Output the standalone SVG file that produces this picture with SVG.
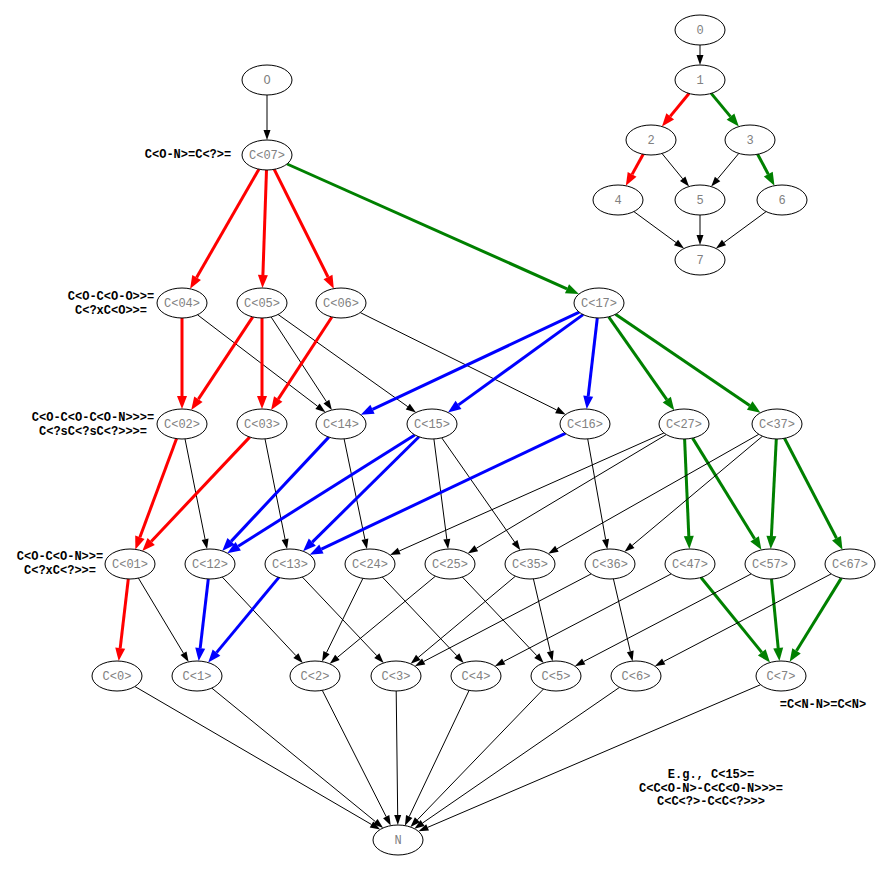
<svg xmlns="http://www.w3.org/2000/svg" width="891" height="871" viewBox="0 0 891 871">
<style>
.n ellipse{fill:#fff;stroke:#000;stroke-width:1}
.n text{font-family:"Liberation Mono","DejaVu Sans Mono",monospace;font-size:12px;fill:#808080;text-anchor:middle}
.lbl{font-family:"Liberation Mono","DejaVu Sans Mono",monospace;font-size:12px;font-weight:bold;fill:#000;text-anchor:middle}
.k{stroke:#000;stroke-width:1;fill:none;marker-end:url(#ak)}
.r{stroke:#f00;stroke-width:3;fill:none;marker-end:url(#ar)}
.g{stroke:#008000;stroke-width:3;fill:none;marker-end:url(#ag)}
.b{stroke:#00f;stroke-width:3;fill:none;marker-end:url(#ab)}
</style>
<defs>
<marker id="ak" markerUnits="userSpaceOnUse" orient="auto" refX="0" refY="3.5" markerWidth="11" markerHeight="8" overflow="visible"><path d="M0,0 L10,3.5 L0,7 z" fill="#000"/></marker>
<marker id="ar" markerUnits="userSpaceOnUse" orient="auto" refX="0" refY="5" markerWidth="14" markerHeight="11" overflow="visible"><path d="M0,0 L13,5 L0,10 z" fill="#f00"/></marker>
<marker id="ag" markerUnits="userSpaceOnUse" orient="auto" refX="0" refY="5" markerWidth="14" markerHeight="11" overflow="visible"><path d="M0,0 L13,5 L0,10 z" fill="#008000"/></marker>
<marker id="ab" markerUnits="userSpaceOnUse" orient="auto" refX="0" refY="5" markerWidth="14" markerHeight="11" overflow="visible"><path d="M0,0 L13,5 L0,10 z" fill="#00f"/></marker>
</defs>
<rect width="891" height="871" fill="#fff"/>
<g id="connectors">
<line class="k" x1="267" y1="95" x2="267" y2="130"/>
<line class="r" x1="258.9" y1="169.2" x2="196.6" y2="277.5"/>
<line class="r" x1="266.5" y1="170" x2="262.9" y2="275"/>
<line class="r" x1="274.2" y1="169.4" x2="328" y2="277"/>
<line class="g" x1="287.1" y1="164" x2="567" y2="288.8"/>
<line class="r" x1="182" y1="318" x2="182" y2="396"/>
<line class="k" x1="197.5" y1="314.8" x2="317.5" y2="406.2"/>
<line class="r" x1="252.8" y1="316.9" x2="198.4" y2="399.2"/>
<line class="r" x1="262" y1="318" x2="262" y2="396"/>
<line class="k" x1="271.1" y1="317" x2="326.4" y2="401.6"/>
<line class="k" x1="278.1" y1="314.5" x2="407.8" y2="406.7"/>
<line class="r" x1="331.9" y1="317" x2="278.2" y2="399.1"/>
<line class="k" x1="360.3" y1="312.6" x2="556.7" y2="410"/>
<line class="b" x1="579.3" y1="312.2" x2="372.5" y2="409.3"/>
<line class="b" x1="583.1" y1="314.6" x2="458.5" y2="404.9"/>
<line class="b" x1="597.3" y1="318" x2="588.2" y2="396.1"/>
<line class="g" x1="608.7" y1="316.8" x2="666.8" y2="399.6"/>
<line class="g" x1="615.5" y1="314.3" x2="749.7" y2="405.5"/>
<line class="r" x1="176.6" y1="438.6" x2="139.9" y2="537.2"/>
<line class="k" x1="185" y1="438.9" x2="205.1" y2="539.3"/>
<line class="r" x1="249.7" y1="437.1" x2="151.2" y2="541.5"/>
<line class="k" x1="265" y1="438.9" x2="285.1" y2="539.3"/>
<line class="b" x1="328.8" y1="437.1" x2="231.1" y2="541.4"/>
<line class="k" x1="344.1" y1="438.9" x2="364.9" y2="539.3"/>
<line class="b" x1="414.8" y1="434.9" x2="238.2" y2="546.2"/>
<line class="b" x1="419" y1="436.8" x2="312.3" y2="542.1"/>
<line class="k" x1="433.9" y1="439" x2="446.8" y2="539.1"/>
<line class="k" x1="441.7" y1="437.8" x2="514.6" y2="542"/>
<line class="b" x1="565.4" y1="433.3" x2="321.4" y2="549.1"/>
<line class="k" x1="587.7" y1="438.9" x2="605.6" y2="539.3"/>
<line class="k" x1="663.9" y1="433" x2="399.2" y2="551"/>
<line class="k" x1="666.3" y1="434.6" x2="476.3" y2="548.3"/>
<line class="g" x1="684.6" y1="439" x2="688.8" y2="536"/>
<line class="g" x1="692.6" y1="438.1" x2="754.6" y2="538.8"/>
<line class="k" x1="758.8" y1="434.3" x2="556.9" y2="548.8"/>
<line class="k" x1="762.5" y1="436.2" x2="632.2" y2="545.4"/>
<line class="g" x1="776.3" y1="439" x2="771.4" y2="536"/>
<line class="g" x1="784.5" y1="438.3" x2="836.5" y2="538.2"/>
<line class="r" x1="128.3" y1="579" x2="120.2" y2="648.1"/>
<line class="k" x1="138.4" y1="578.1" x2="183.5" y2="653.3"/>
<line class="b" x1="208.3" y1="579" x2="200.2" y2="648.1"/>
<line class="k" x1="222.3" y1="577.1" x2="295.9" y2="655.6"/>
<line class="b" x1="278.9" y1="577.4" x2="216.5" y2="652.6"/>
<line class="k" x1="302.3" y1="577" x2="376.8" y2="655.7"/>
<line class="k" x1="362.9" y1="578.4" x2="326.5" y2="652.6"/>
<line class="k" x1="382.3" y1="577" x2="456.8" y2="655.7"/>
<line class="k" x1="435.4" y1="576.2" x2="337.4" y2="657.4"/>
<line class="k" x1="462.3" y1="577" x2="536.8" y2="655.7"/>
<line class="k" x1="515.4" y1="576.2" x2="418.3" y2="657.4"/>
<line class="k" x1="533.4" y1="578.9" x2="550.3" y2="651.4"/>
<line class="k" x1="591.2" y1="573.9" x2="423.7" y2="661.5"/>
<line class="k" x1="613.4" y1="578.9" x2="630.3" y2="651.4"/>
<line class="k" x1="671.2" y1="573.9" x2="503.7" y2="661.5"/>
<line class="g" x1="701" y1="577.5" x2="761.8" y2="652.4"/>
<line class="k" x1="751.2" y1="573.9" x2="583.7" y2="661.5"/>
<line class="g" x1="771.5" y1="579" x2="778.2" y2="648.1"/>
<line class="k" x1="831.2" y1="573.9" x2="663.7" y2="661.5"/>
<line class="g" x1="841.3" y1="578.1" x2="796.5" y2="650.8"/>
<line class="k" x1="134.9" y1="686.5" x2="371.5" y2="824.5"/>
<line class="k" x1="211.8" y1="688.1" x2="375.4" y2="821.6"/>
<line class="k" x1="322.3" y1="690.4" x2="386.2" y2="816.7"/>
<line class="k" x1="396.2" y1="691" x2="397.7" y2="815"/>
<line class="k" x1="469.1" y1="690.4" x2="409.2" y2="816.6"/>
<line class="k" x1="543.5" y1="689" x2="417.4" y2="819.8"/>
<line class="k" x1="619.6" y1="687.3" x2="422.6" y2="823"/>
<line class="k" x1="760.6" y1="684.7" x2="427.6" y2="827.4"/>
<line class="k" x1="700" y1="45" x2="700" y2="55"/>
<line class="r" x1="689" y1="93.5" x2="670.2" y2="116.4"/>
<line class="g" x1="711.2" y1="93.4" x2="730.5" y2="116.6"/>
<line class="r" x1="643.2" y1="154.2" x2="632.1" y2="174.4"/>
<line class="k" x1="662" y1="153.5" x2="682.7" y2="178.8"/>
<line class="k" x1="738.8" y1="153.4" x2="717.6" y2="178.9"/>
<line class="g" x1="757.6" y1="154.3" x2="768.3" y2="174.2"/>
<line class="k" x1="633.9" y1="211.6" x2="676" y2="242.5"/>
<line class="k" x1="700" y1="215" x2="700" y2="235"/>
<line class="k" x1="766.1" y1="211.6" x2="724" y2="242.5"/>
</g>
<g id="n_O" class="n"><ellipse cx="267" cy="80" rx="25" ry="15"/><text x="267" y="84">O</text></g>
<g id="n_07" class="n"><ellipse cx="267" cy="155" rx="25" ry="15"/><text x="267" y="159">C&lt;07&gt;</text></g>
<g id="n_04" class="n"><ellipse cx="182" cy="303" rx="25" ry="15"/><text x="182" y="307">C&lt;04&gt;</text></g>
<g id="n_05" class="n"><ellipse cx="262" cy="303" rx="25" ry="15"/><text x="262" y="307">C&lt;05&gt;</text></g>
<g id="n_06" class="n"><ellipse cx="341" cy="303" rx="25" ry="15"/><text x="341" y="307">C&lt;06&gt;</text></g>
<g id="n_17" class="n"><ellipse cx="599" cy="303" rx="25" ry="15"/><text x="599" y="307">C&lt;17&gt;</text></g>
<g id="n_02" class="n"><ellipse cx="182" cy="424" rx="25" ry="15"/><text x="182" y="428">C&lt;02&gt;</text></g>
<g id="n_03" class="n"><ellipse cx="262" cy="424" rx="25" ry="15"/><text x="262" y="428">C&lt;03&gt;</text></g>
<g id="n_14" class="n"><ellipse cx="341" cy="424" rx="25" ry="15"/><text x="341" y="428">C&lt;14&gt;</text></g>
<g id="n_15" class="n"><ellipse cx="432" cy="424" rx="25" ry="15"/><text x="432" y="428">C&lt;15&gt;</text></g>
<g id="n_16" class="n"><ellipse cx="585" cy="424" rx="25" ry="15"/><text x="585" y="428">C&lt;16&gt;</text></g>
<g id="n_27" class="n"><ellipse cx="684" cy="424" rx="25" ry="15"/><text x="684" y="428">C&lt;27&gt;</text></g>
<g id="n_37" class="n"><ellipse cx="777" cy="424" rx="25" ry="15"/><text x="777" y="428">C&lt;37&gt;</text></g>
<g id="n_01" class="n"><ellipse cx="130" cy="564" rx="25" ry="15"/><text x="130" y="568">C&lt;01&gt;</text></g>
<g id="n_12" class="n"><ellipse cx="210" cy="564" rx="25" ry="15"/><text x="210" y="568">C&lt;12&gt;</text></g>
<g id="n_13" class="n"><ellipse cx="290" cy="564" rx="25" ry="15"/><text x="290" y="568">C&lt;13&gt;</text></g>
<g id="n_24" class="n"><ellipse cx="370" cy="564" rx="25" ry="15"/><text x="370" y="568">C&lt;24&gt;</text></g>
<g id="n_25" class="n"><ellipse cx="450" cy="564" rx="25" ry="15"/><text x="450" y="568">C&lt;25&gt;</text></g>
<g id="n_35" class="n"><ellipse cx="530" cy="564" rx="25" ry="15"/><text x="530" y="568">C&lt;35&gt;</text></g>
<g id="n_36" class="n"><ellipse cx="610" cy="564" rx="25" ry="15"/><text x="610" y="568">C&lt;36&gt;</text></g>
<g id="n_47" class="n"><ellipse cx="690" cy="564" rx="25" ry="15"/><text x="690" y="568">C&lt;47&gt;</text></g>
<g id="n_57" class="n"><ellipse cx="770" cy="564" rx="25" ry="15"/><text x="770" y="568">C&lt;57&gt;</text></g>
<g id="n_67" class="n"><ellipse cx="850" cy="564" rx="25" ry="15"/><text x="850" y="568">C&lt;67&gt;</text></g>
<g id="n_c0" class="n"><ellipse cx="117" cy="676" rx="25" ry="15"/><text x="117" y="680">C&lt;0&gt;</text></g>
<g id="n_c1" class="n"><ellipse cx="197" cy="676" rx="25" ry="15"/><text x="197" y="680">C&lt;1&gt;</text></g>
<g id="n_c2" class="n"><ellipse cx="315" cy="676" rx="25" ry="15"/><text x="315" y="680">C&lt;2&gt;</text></g>
<g id="n_c3" class="n"><ellipse cx="396" cy="676" rx="25" ry="15"/><text x="396" y="680">C&lt;3&gt;</text></g>
<g id="n_c4" class="n"><ellipse cx="476" cy="676" rx="25" ry="15"/><text x="476" y="680">C&lt;4&gt;</text></g>
<g id="n_c5" class="n"><ellipse cx="556" cy="676" rx="25" ry="15"/><text x="556" y="680">C&lt;5&gt;</text></g>
<g id="n_c6" class="n"><ellipse cx="636" cy="676" rx="25" ry="15"/><text x="636" y="680">C&lt;6&gt;</text></g>
<g id="n_c7" class="n"><ellipse cx="781" cy="676" rx="25" ry="15"/><text x="781" y="680">C&lt;7&gt;</text></g>
<g id="n_N" class="n"><ellipse cx="398" cy="840" rx="25" ry="15"/><text x="398" y="844">N</text></g>
<g id="t0" class="n"><ellipse cx="700" cy="30" rx="25" ry="15"/><text x="700" y="34">0</text></g>
<g id="t1" class="n"><ellipse cx="700" cy="80" rx="25" ry="15"/><text x="700" y="84">1</text></g>
<g id="t2" class="n"><ellipse cx="651" cy="140" rx="25" ry="15"/><text x="651" y="144">2</text></g>
<g id="t3" class="n"><ellipse cx="750" cy="140" rx="25" ry="15"/><text x="750" y="144">3</text></g>
<g id="t4" class="n"><ellipse cx="618" cy="200" rx="25" ry="15"/><text x="618" y="204">4</text></g>
<g id="t5" class="n"><ellipse cx="700" cy="200" rx="25" ry="15"/><text x="700" y="204">5</text></g>
<g id="t6" class="n"><ellipse cx="782" cy="200" rx="25" ry="15"/><text x="782" y="204">6</text></g>
<g id="t7" class="n"><ellipse cx="700" cy="260" rx="25" ry="15"/><text x="700" y="264">7</text></g>
<g id="labels">
<text class="lbl" x="188" y="158">C&lt;O-N&gt;=C&lt;?&gt;=</text>
<text class="lbl" x="111" y="300">C&lt;O-C&lt;O-O&gt;&gt;=</text>
<text class="lbl" x="111" y="314">C&lt;?xC&lt;O&gt;&gt;=</text>
<text class="lbl" x="93" y="421">C&lt;O-C&lt;O-C&lt;O-N&gt;&gt;&gt;=</text>
<text class="lbl" x="93" y="435">C&lt;?sC&lt;?sC&lt;?&gt;&gt;&gt;=</text>
<text class="lbl" x="60" y="560">C&lt;O-C&lt;O-N&gt;&gt;=</text>
<text class="lbl" x="60" y="574">C&lt;?xC&lt;?&gt;&gt;=</text>
<text class="lbl" x="823" y="708">=C&lt;N-N&gt;=C&lt;N&gt;</text>
<text class="lbl" x="711" y="778">E.g., C&lt;15&gt;=</text>
<text class="lbl" x="711" y="792">C&lt;C&lt;O-N&gt;-C&lt;C&lt;O-N&gt;&gt;&gt;=</text>
<text class="lbl" x="711" y="805">C&lt;C&lt;?&gt;-C&lt;C&lt;?&gt;&gt;&gt;</text>
</g>
</svg>
